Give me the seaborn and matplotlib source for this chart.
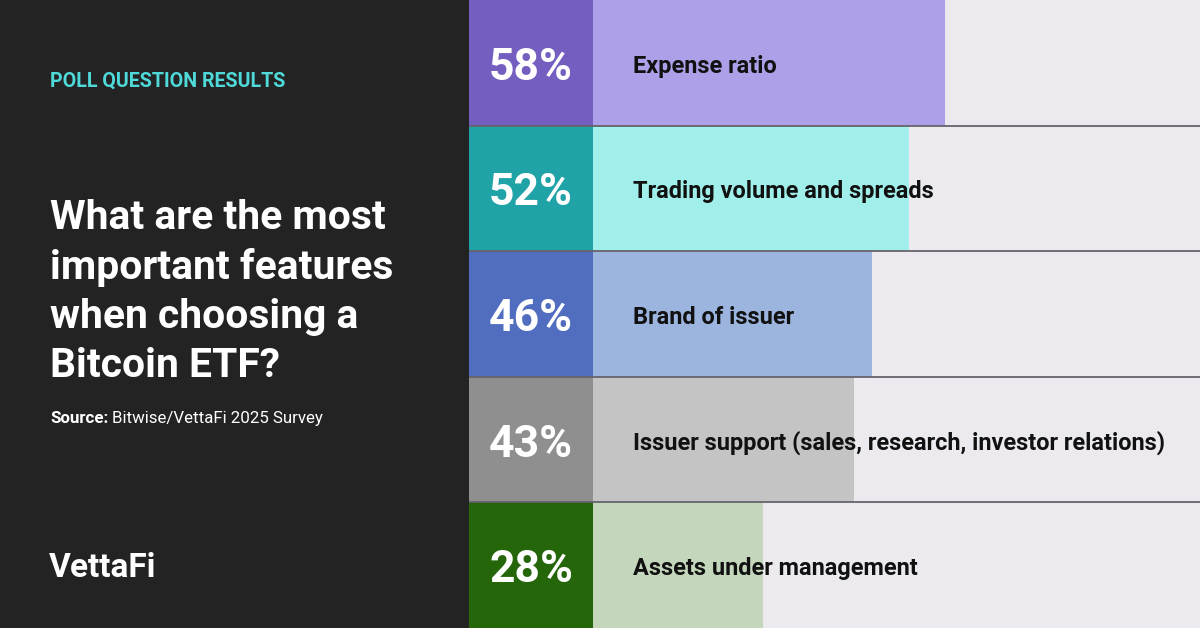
import matplotlib
matplotlib.use("Agg")
import matplotlib.pyplot as plt
import matplotlib.transforms as mtransforms
import seaborn as sns
import pandas as pd

# ---- data ----
categories = ["Expense ratio", "Trading volume and spreads", "Brand of issuer",
              "Issuer support (sales, research, investor relations)", "Assets under management"]
values = [58, 52, 46, 43, 28]
pct_labels = ["58%", "52%", "46%", "43%", "28%"]
dark_colors = ["#745fc1", "#1fa3a7", "#516dbf", "#8f8f8f", "#25660b"]
light_colors = ["#ada0e8", "#a1efea", "#9bb5df", "#c4c4c4", "#c4d7bc"]
full_share = [1, 1, 1, 1, 1]

kicker = "POLL QUESTION RESULTS"
title = "What are the most\nimportant features\nwhen choosing a\nBitcoin ETF?"
source_label = "Source:"
source_text = "Bitwise/VettaFi 2025 Survey"
brand = "VettaFi"

df = pd.DataFrame({"cat": categories, "val": values, "full": full_share})

sns.set_theme(style="white")
FONT = ["Roboto", "DejaVu Sans"]
plt.rcParams["font.family"] = FONT

W, H = 1200, 628
fig = plt.figure(figsize=(W / 100, H / 100), dpi=100)
fig.patch.set_facecolor("#232323")

# square column
ax_sq = fig.add_axes([469 / W, 0, 124 / W, 1])
sns.barplot(data=df, x="full", y="cat", hue="cat", palette=dark_colors, width=1,
            linewidth=0, saturation=1, orient="h", legend=False, ax=ax_sq)
ax_sq.set_xlim(0, 1)

# bar column
ax_bar = fig.add_axes([593 / W, 0, 607 / W, 1])
ax_bar.set_facecolor("#eceaef")
sns.barplot(data=df, x="val", y="cat", hue="cat", palette=light_colors, width=1,
            linewidth=0, saturation=1, orient="h", legend=False, ax=ax_bar)
ax_bar.set_xlim(0, 100)

for ax in (ax_sq, ax_bar):
    ax.set_ylim(len(categories) - 0.5, -0.5)
    ax.set_xlabel("")
    ax.set_ylabel("")
    ax.set_xticks([])
    ax.set_yticks([])
    for s in ax.spines.values():
        s.set_visible(False)
    for i in range(len(categories) - 1):
        ax.axhline(i + 0.5, color="#66636b", lw=1.3, zorder=5)

pct_off = mtransforms.ScaledTranslation(0, -17 / 100, fig.dpi_scale_trans)
lab_off = mtransforms.ScaledTranslation(0, -10 / 100, fig.dpi_scale_trans)
tr = mtransforms.blended_transform_factory(ax_bar.transAxes, ax_bar.transData)
for i, (p, c) in enumerate(zip(pct_labels, categories)):
    ax_sq.text(0.5, i, p, ha="center", va="baseline", color="white",
               fontsize=32, fontweight="semibold", zorder=6,
               transform=ax_sq.transData + pct_off)
    ax_bar.text(40 / 607, i, c, ha="left", va="baseline", color="#111111",
                fontsize=16.9, fontweight="bold", transform=tr + lab_off, zorder=6)

# left panel text
fig.text(50 / W, 1 - 81 / H, kicker, color="#4fd9d9", fontsize=14.1,
         fontweight="bold", va="center", ha="left")
fig.text(50 / W, 1 - 377 / H, title, color="white", fontsize=29.3,
         fontweight="bold", va="baseline", ha="left", linespacing=1.36)
t1 = fig.text(50 / W, 1 - 423 / H, source_label, color="white", fontsize=12.2,
              fontweight="bold", va="baseline", ha="left")
fig.canvas.draw()
bb = t1.get_window_extent()
fig.text((bb.x1 + 3.5) / W, 1 - 423 / H, source_text, color="white", fontsize=12.2,
         va="baseline", ha="left")
fig.text(49 / W, 1 - 577 / H, brand, color="white", fontsize=24,
         fontweight="bold", va="baseline", ha="left")

fig.savefig("out.png", dpi=100, facecolor=fig.get_facecolor())
